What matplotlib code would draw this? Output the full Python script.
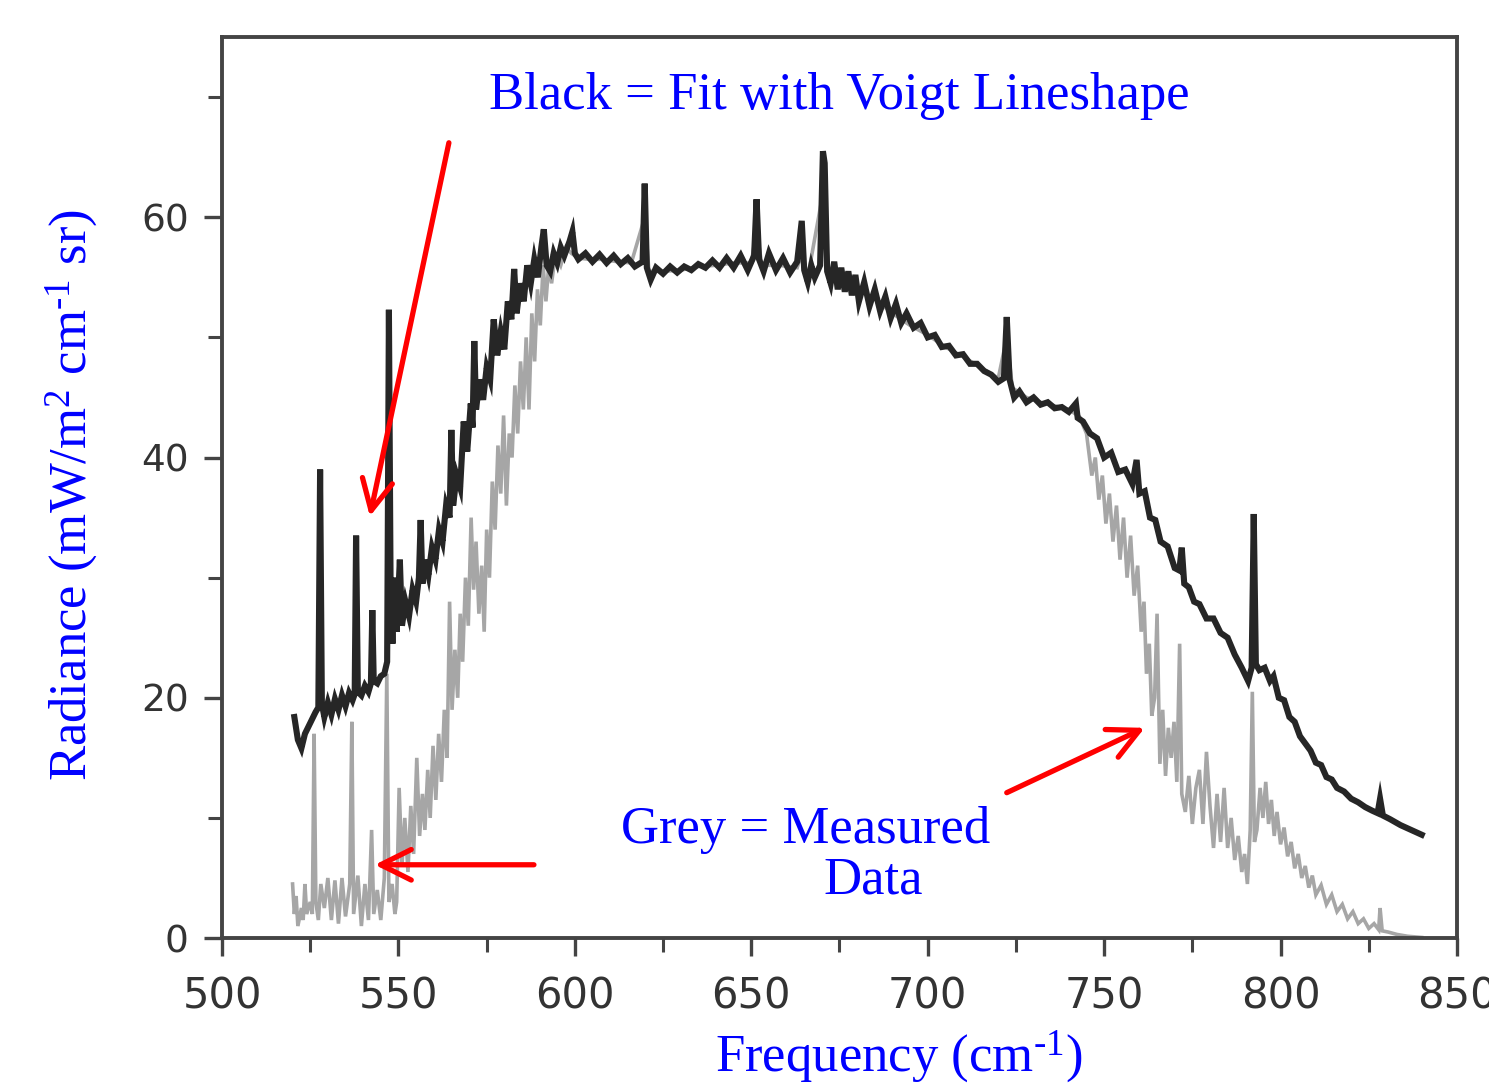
import matplotlib

matplotlib.use("Agg")
import matplotlib.pyplot as plt  # noqa: E402

# Voigt fit (black): frequency in cm^-1, radiance in mW/m^2 cm^-1 sr
fit_freq = [
    520.5, 521.5, 522.5, 523.5, 524.5, 525.5, 526.5, 527.3, 527.8, 528.3,
    529.0, 530.0, 531.0, 532.0, 533.0, 534.0, 535.0, 536.0, 537.0, 537.6,
    538.0, 538.5, 539.5, 540.5, 541.5, 542.2, 542.6, 543.0, 544.0, 545.0,
    546.0, 546.8, 547.3, 547.8, 548.3, 549.0, 549.5, 550.4, 551.0, 552.0,
    553.0, 554.0, 555.0, 555.8, 556.3, 556.8, 557.5, 558.5, 559.5, 560.5,
    561.5, 562.5, 563.5, 564.5, 565.0, 565.5, 566.5, 567.5, 568.5, 569.5,
    570.5, 571.0, 571.5, 572.0, 573.0, 574.0, 575.0, 576.0, 577.0, 578.0,
    579.0, 580.0, 581.0, 582.0, 582.8, 583.5, 584.5, 585.5, 586.5, 587.5,
    588.5, 589.5, 590.5, 591.2, 592.0, 593.0, 594.0, 595.0, 596.0, 597.0,
    598.5, 599.3, 600.0, 601.0, 603.0, 605.0, 607.0, 609.0, 611.0, 613.0,
    615.0, 617.0, 619.2, 619.8, 620.4, 621.5, 623.0, 625.0, 627.0, 629.0,
    631.0, 633.0, 635.0, 637.0, 639.0, 641.0, 643.0, 645.0, 647.0, 649.0,
    650.8, 651.5, 652.2, 653.5, 655.0, 657.0, 659.0, 661.0, 663.0, 664.3,
    665.0, 666.0, 667.0, 668.0, 669.5, 670.3, 670.8, 671.5, 672.5, 673.5,
    674.5, 675.5, 676.5, 677.5, 678.5, 679.5, 680.5, 682.0, 683.5, 685.0,
    686.5, 688.0, 689.5, 691.0, 692.5, 694.0, 696.0, 698.0, 700.0, 702.0,
    704.0, 706.0, 708.0, 710.0, 712.0, 714.0, 716.0, 718.0, 720.0, 721.6,
    722.4, 723.2, 724.5, 726.0, 728.0, 730.0, 732.0, 734.0, 736.0, 738.0,
    740.0, 742.0, 742.5, 744.0, 746.0, 748.0, 750.0, 752.0, 754.0, 756.0,
    758.0, 759.2, 760.0, 761.5, 763.0, 764.5, 766.0, 768.0, 770.0, 771.3,
    772.0, 772.7, 774.0, 775.5, 777.0, 779.0, 781.0, 783.0, 785.0, 787.0,
    789.0, 790.8, 791.8, 792.4, 793.0, 794.0, 795.5, 797.0, 798.0, 799.5,
    801.0, 802.5, 804.0, 805.5, 807.0, 808.5, 810.0, 811.5, 813.0, 814.5,
    816.0, 818.0, 820.0, 822.0, 824.0, 826.0, 827.5, 828.2, 829.0, 831.0,
    834.0, 837.0, 840.0,
]
fit_rad = [
    18.4, 16.5, 15.8, 17.0, 17.6, 18.2, 18.8, 19.2, 39.0, 19.5,
    18.4, 19.6, 18.6, 19.9, 19.0, 20.2, 19.3, 20.4, 19.8, 20.3,
    33.5, 20.5, 20.2, 21.0, 20.5, 21.2, 27.3, 21.4, 21.2, 21.8,
    22.0, 23.0, 52.3, 28.0, 24.5, 30.0, 25.5, 31.5, 26.0, 28.0,
    26.8, 29.0, 28.0, 30.0, 34.8, 29.5, 31.5, 30.2, 32.5, 31.5,
    34.0, 33.0, 36.0, 35.0, 42.3, 36.0, 38.5, 37.5, 43.0, 40.5,
    44.5, 42.5, 49.7, 44.0, 46.5, 44.8, 47.5, 46.5, 51.5, 48.5,
    50.5, 49.0, 53.0, 51.5, 55.7, 52.0, 54.5, 53.0, 56.0, 54.5,
    56.5, 55.0, 57.5, 59.0, 56.0, 55.5, 57.0, 56.2, 57.5, 56.8,
    58.0, 58.8, 57.0, 56.5, 57.0, 56.3, 56.9, 56.2, 56.8, 56.1,
    56.6, 55.9, 56.3, 62.8, 55.8, 54.8, 55.8, 55.3, 55.9, 55.4,
    55.9, 55.6, 56.1, 55.8, 56.4, 55.8, 56.6, 55.8, 56.8, 55.6,
    56.8, 61.5, 56.5, 55.5, 57.0, 55.6, 56.6, 55.4, 56.3, 59.7,
    55.6, 54.6, 56.0, 55.0, 56.0, 65.5, 64.5, 55.5, 54.5, 56.3,
    54.0, 55.8, 53.8, 55.5, 53.5, 55.2, 53.0, 54.6, 52.6, 54.0,
    52.2, 53.4, 51.6, 52.8, 51.2, 52.0, 50.8, 51.2, 50.0, 50.2,
    49.2, 49.3, 48.5, 48.6, 47.8, 47.8, 47.2, 46.9, 46.3, 46.6,
    51.7, 46.5, 45.0, 45.5, 44.6, 45.0, 44.4, 44.6, 44.1, 44.2,
    43.8, 44.5, 43.3, 43.0, 42.0, 41.6, 40.0, 40.4, 38.8, 39.0,
    37.8, 39.8, 37.0, 37.2, 35.0, 34.8, 33.0, 32.6, 30.8, 30.6,
    32.5, 29.5, 29.2, 28.0, 27.8, 26.6, 26.6, 25.4, 25.0, 23.6,
    22.5, 21.4, 22.5, 35.3, 22.8, 22.3, 22.5, 21.4, 21.8, 20.0,
    19.8, 18.4, 18.0, 16.8, 16.2, 15.6, 14.6, 14.4, 13.4, 13.2,
    12.5, 12.2, 11.6, 11.3, 10.9, 10.6, 10.4, 11.6, 10.2, 9.9,
    9.4, 9.0, 8.6,
]

# Measured spectrum (grey)
meas_freq = [
    520.0, 520.5, 521.0, 521.5, 522.5, 523.0, 523.5, 524.0, 525.0, 525.6,
    526.1, 526.6, 527.3, 528.0, 529.0, 530.0, 531.0, 532.0, 533.0, 534.0,
    535.0, 536.2, 536.8, 537.3, 538.5, 539.5, 540.5, 541.5, 542.4, 543.0,
    544.0, 545.0, 546.0, 546.7, 547.3, 548.2, 549.0, 549.5, 550.2, 551.0,
    551.8, 552.7, 553.5, 554.3, 555.2, 556.0, 556.8, 557.5, 558.3, 559.0,
    559.8, 560.6, 561.4, 562.2, 563.0, 563.8, 564.5, 565.2, 566.0, 566.8,
    567.5, 568.2, 569.0, 569.8, 570.6, 571.3, 572.0, 572.8, 573.6, 574.3,
    575.0, 575.8, 576.6, 577.4, 578.2, 579.0, 579.8, 580.6, 581.4, 582.2,
    583.0, 583.8, 584.6, 585.4, 586.2, 587.0, 587.8, 588.6, 589.4, 590.2,
    591.0, 591.8, 592.6, 593.4, 594.5, 596.0, 597.5, 599.0, 601.0, 604.0,
    608.0, 612.0, 616.0, 619.8, 621.0, 625.0, 630.0, 635.0, 640.0, 645.0,
    650.0, 651.5, 653.0, 658.0, 663.0, 664.3, 666.0, 670.3, 672.0, 676.0,
    680.0, 685.0, 690.0, 695.0, 700.0, 705.0, 710.0, 715.0, 720.0, 722.4,
    724.0, 728.0, 732.0, 736.0, 740.0, 743.0, 745.0, 746.5, 747.5, 748.5,
    749.5, 750.5, 751.5, 752.5, 753.5, 754.5, 755.5, 756.5, 757.5, 758.5,
    759.5, 760.5, 761.3, 762.0, 762.8, 763.5, 764.3, 765.0, 765.8, 766.6,
    767.4, 768.2, 769.0, 769.8, 770.6, 771.4, 772.0, 773.0, 774.0, 775.0,
    776.0, 777.0, 778.0, 779.0, 780.0, 781.0, 782.0, 783.0, 784.0, 785.0,
    786.0, 787.0, 788.0, 789.0, 789.8, 790.6, 791.4, 792.0, 792.6, 793.3,
    794.2, 795.0, 795.8, 796.6, 797.4, 798.2, 799.0, 800.0, 801.0, 802.0,
    803.0, 804.0, 805.0, 806.0, 807.0, 808.0, 809.0, 810.0, 811.5, 813.0,
    814.5, 816.0, 817.5, 819.0, 820.5, 822.0, 823.5, 825.0, 826.5, 827.8,
    828.2, 828.8, 830.5, 833.0, 836.0, 840.0,
]
meas_rad = [
    4.5, 2.0, 3.5, 1.0, 2.5, 1.5, 4.5, 2.0, 3.0, 2.0,
    17.0, 3.0, 1.5, 4.5, 2.5, 5.0, 1.5, 4.8, 1.2, 5.0,
    1.8, 4.5, 18.0, 2.0, 5.2, 1.0, 4.5, 1.5, 9.0, 2.0,
    4.0, 1.5, 5.0, 22.0, 3.0, 4.5, 2.0, 3.0, 12.5, 6.0,
    10.0, 5.5, 11.0, 7.0, 15.0, 8.5, 12.0, 9.0, 14.0, 10.0,
    16.0, 11.5, 17.0, 13.0, 19.0, 15.0, 28.0, 19.0, 24.0, 20.0,
    27.0, 23.0, 30.0, 26.0, 35.0, 29.0, 33.0, 27.0, 31.0, 25.5,
    34.0, 30.0, 38.0, 34.0, 41.0, 37.0, 43.5, 36.0, 42.0, 40.0,
    46.0, 42.0, 48.0, 44.0, 50.0, 44.0, 52.0, 48.0, 54.0, 51.0,
    56.0, 53.0, 56.0, 54.5, 57.0, 56.0, 57.5, 57.0, 56.6, 56.5,
    56.5, 56.3, 56.2, 60.0, 55.5, 55.5, 55.6, 55.9, 56.0, 56.2,
    56.2, 59.0, 56.0, 56.0, 55.8, 57.0, 55.0, 62.0, 55.2, 54.8,
    54.0, 53.2, 52.0, 51.0, 50.2, 49.2, 48.4, 47.5, 46.6, 50.0,
    45.8, 45.0, 44.6, 44.3, 44.0, 43.4, 42.0, 38.5, 40.0, 36.5,
    38.5, 34.5, 37.0, 33.0, 36.0, 31.5, 35.0, 30.0, 33.5, 28.5,
    31.0, 25.5, 28.0, 22.0, 24.5, 18.5, 20.0, 27.0, 14.5, 19.0,
    13.5, 17.5, 15.0, 18.0, 13.0, 24.5, 12.0, 10.5, 13.5, 9.5,
    12.5, 14.0, 9.5, 15.5, 11.0, 7.5, 12.0, 8.0, 12.5, 7.5,
    10.0, 6.5, 8.5, 5.5, 7.0, 4.5, 9.0, 20.5, 8.0, 9.0,
    12.5, 10.0, 13.0, 9.5, 11.5, 8.5, 10.5, 7.8, 9.2, 6.8,
    8.0, 5.8, 7.0, 5.0, 6.0, 4.2, 5.2, 3.6, 4.4, 2.8,
    3.6, 2.2, 2.8, 1.6, 2.2, 1.2, 1.6, 0.8, 1.2, 0.7,
    2.5, 0.6, 0.5, 0.3, 0.15, 0.05,
]

x_ticks = [500, 550, 600, 650, 700, 750, 800, 850]
x_minor = [525, 575, 625, 675, 725, 775, 825]
y_ticks = [0, 20, 40, 60]
y_minor = [10, 30, 50, 70]

plt.rcParams["mathtext.fontset"] = "custom"
plt.rcParams["mathtext.rm"] = "Liberation Serif"
plt.rcParams["mathtext.it"] = "Liberation Serif:italic"

BLUE = "#0000ff"
RED = "#ff0000"
AXIS_GREY = "#444444"
serif = dict(family="Liberation Serif", color=BLUE, fontsize=38)

fig = plt.figure(figsize=(14.89, 10.9), dpi=100)
ax = fig.add_axes([0.1491, 0.1394, 0.8294, 0.8266])

# measured data sits underneath the fit
ax.plot(meas_freq, meas_rad, color="#9c9c9c", lw=2.6, alpha=0.9,
        solid_joinstyle="miter")
ax.plot(fit_freq, fit_rad, color="#262626", lw=4.4, solid_joinstyle="miter")

ax.set_xlim(500, 850)
ax.set_ylim(0, 75)
ax.set_xticks(x_ticks)
ax.set_xticks(x_minor, minor=True)
ax.set_yticks(y_ticks)
ax.set_yticks(y_minor, minor=True)

for side in ax.spines.values():
    side.set_color(AXIS_GREY)
    side.set_linewidth(2.8)

ax.tick_params(axis="both", which="major", direction="out", length=13,
               width=2.4, color=AXIS_GREY, labelcolor="#333333")
ax.tick_params(axis="both", which="minor", direction="out", length=10,
               width=2.2, color=AXIS_GREY)
ax.tick_params(axis="x", labelsize=30, pad=14)
ax.tick_params(axis="y", labelsize=27, pad=11)
for lab in ax.get_xticklabels() + ax.get_yticklabels():
    lab.set_family("DejaVu Sans")

ax.set_ylabel(r"Radiance (mW/m$^2$ cm$^{\text{-}1}$ sr)", va="center", **serif)
ax.yaxis.set_label_coords(-0.1215, 0.492)
ax.set_xlabel(r"Frequency (cm$^{\text{-}1}$)", va="center", **serif)
ax.xaxis.set_label_coords(0.548, -0.132)

ax.text(575.6, 69.0, "Black = Fit with Voigt Lineshape", ha="left",
        va="baseline", **serif)
ax.text(613.0, 7.9, "Grey = Measured", ha="left", va="baseline", **serif)
ax.text(670.5, 3.75, "Data", ha="left", va="baseline", **serif)

arrow = dict(arrowstyle="->,head_length=1.1,head_width=0.55", color=RED,
             lw=3.8, shrinkA=0, shrinkB=0, mutation_scale=20)
ax.annotate("", xy=(541.9, 35.1), xytext=(564.3, 66.2), arrowprops=arrow)
ax.annotate("", xy=(543.3, 6.1), xytext=(588.4, 6.1), arrowprops=arrow)
ax.annotate("", xy=(761.5, 17.5), xytext=(722.4, 12.1), arrowprops=arrow)

fig.savefig("out.png", dpi=100)
